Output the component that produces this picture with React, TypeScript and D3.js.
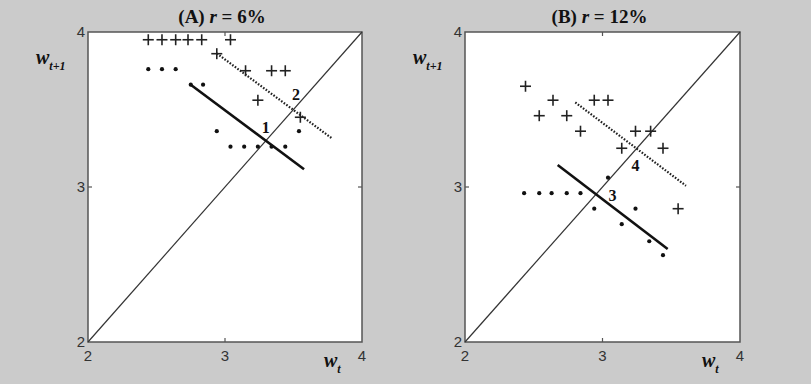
import React from "react";
import * as d3 from "d3";

// Panel A (r = 6%)
const aPlusX = [2.44, 2.54, 2.64, 2.73, 2.83, 3.04, 2.94, 3.15, 3.34, 3.44, 3.24, 3.55];
const aPlusY = [3.95, 3.95, 3.95, 3.95, 3.95, 3.95, 3.86, 3.75, 3.75, 3.75, 3.56, 3.45];
const aDotX = [2.44, 2.54, 2.64, 2.75, 2.84, 2.94, 3.04, 3.14, 3.24, 3.34, 3.44, 3.54];
const aDotY = [3.76, 3.76, 3.76, 3.66, 3.66, 3.36, 3.26, 3.26, 3.26, 3.26, 3.26, 3.36];
const aSolid = [[2.745, 3.663], [3.577, 3.115]];
const aDotted = [[2.94, 3.862], [3.78, 3.314]];
const aLabels = [{ text: "1", x: 3.297, y: 3.385 }, { text: "2", x: 3.518, y: 3.598 }];

// Panel B (r = 12%)
const bPlusX = [2.44, 2.64, 2.54, 2.74, 2.94, 3.04, 2.84, 3.24, 3.35, 3.14, 3.44, 3.55];
const bPlusY = [3.65, 3.56, 3.46, 3.46, 3.56, 3.56, 3.36, 3.36, 3.36, 3.25, 3.25, 2.86];
const bDotX = [2.43, 2.54, 2.63, 2.74, 2.84, 2.94, 3.24, 3.14, 3.34, 3.44, 3.04];
const bDotY = [2.96, 2.96, 2.96, 2.96, 2.96, 2.86, 2.86, 2.76, 2.65, 2.56, 3.06];
const bSolid = [[2.674, 3.142], [3.474, 2.6]];
const bDotted = [[2.802, 3.546], [3.607, 3.008]];
const bLabels = [{ text: "3", x: 3.072, y: 2.948 }, { text: "4", x: 3.24, y: 3.137 }];

const domain: [number, number] = [2, 4];
const tickValues = [2, 3, 4];

type PanelProps = {
  left: number;
  right: number;
  top: number;
  bottom: number;
  letter: string;
  rate: string;
  plusX: number[];
  plusY: number[];
  dotX: number[];
  dotY: number[];
  solid: number[][];
  dotted: number[][];
  labels: { text: string; x: number; y: number }[];
};

const serif = "'Liberation Serif', 'DejaVu Serif', serif";
const sans = "'Liberation Sans', Arial, sans-serif";

function Panel(p: PanelProps) {
  const x = d3.scaleLinear().domain(domain).range([p.left, p.right]);
  const y = d3.scaleLinear().domain(domain).range([p.bottom, p.top]);
  const line = d3
    .line<number[]>()
    .x((d) => x(d[0]))
    .y((d) => y(d[1]));
  const cx = (p.left + p.right) / 2;
  return (
    <g>
      <rect
        x={p.left}
        y={p.top}
        width={p.right - p.left}
        height={p.bottom - p.top}
        fill="#ffffff"
        stroke="#555"
        strokeWidth={1.5}
      />
      {/* inward tick marks at the middle value */}
      <line x1={x(3)} x2={x(3)} y1={p.bottom} y2={p.bottom - 4} stroke="#555" strokeWidth={1.2} />
      <line x1={x(3)} x2={x(3)} y1={p.top} y2={p.top + 4} stroke="#555" strokeWidth={1.2} />
      <line x1={p.left} x2={p.left + 4} y1={y(3)} y2={y(3)} stroke="#555" strokeWidth={1.2} />
      <line x1={p.right} x2={p.right - 4} y1={y(3)} y2={y(3)} stroke="#555" strokeWidth={1.2} />
      {/* 45-degree line */}
      <path d={line([[2, 2], [4, 4]]) ?? ""} stroke="#333" strokeWidth={1.2} fill="none" />
      <path d={line(p.solid) ?? ""} stroke="#111" strokeWidth={2.6} fill="none" />
      <path
        d={line(p.dotted) ?? ""}
        stroke="#222"
        strokeWidth={2.2}
        strokeDasharray="1.6 1.6"
        fill="none"
      />
      {p.plusX.map((v, i) => (
        <g key={"p" + i} transform={`translate(${x(v)},${y(p.plusY[i])})`}>
          <line x1={-5.5} x2={5.5} y1={0} y2={0} stroke="#222" strokeWidth={1.6} />
          <line x1={0} x2={0} y1={-5.5} y2={5.5} stroke="#222" strokeWidth={1.6} />
        </g>
      ))}
      {p.dotX.map((v, i) => (
        <circle key={"d" + i} cx={x(v)} cy={y(p.dotY[i])} r={2.1} fill="#111" />
      ))}
      {p.labels.map((l) => (
        <text
          key={l.text}
          x={x(l.x)}
          y={y(l.y)}
          dy="0.35em"
          textAnchor="middle"
          fontFamily={serif}
          fontWeight="bold"
          fontSize={16}
          fill="#111"
        >
          {l.text}
        </text>
      ))}
      {/* tick labels */}
      {tickValues.map((t) => (
        <text
          key={"xt" + t}
          x={x(t)}
          y={p.bottom + 19}
          textAnchor="middle"
          fontFamily={sans}
          fontSize={15}
          fill="#333"
        >
          {t}
        </text>
      ))}
      {tickValues.map((t) => (
        <text
          key={"yt" + t}
          x={p.left - 3}
          y={y(t)}
          dy="0.35em"
          textAnchor="end"
          fontFamily={sans}
          fontSize={15}
          fill="#333"
        >
          {t}
        </text>
      ))}
      {/* title */}
      <text
        x={cx - 3}
        y={23}
        textAnchor="middle"
        fontFamily={serif}
        fontWeight="bold"
        fontSize={19}
        fill="#111"
      >
        {`(${p.letter}) `}
        <tspan fontStyle="italic">r</tspan>
        {` = ${p.rate}`}
      </text>
      {/* y-axis label */}
      <text
        x={p.left - 52}
        y={64}
        fontFamily={serif}
        fontWeight="bold"
        fontStyle="italic"
        fontSize={20}
        fill="#111"
      >
        w
        <tspan fontSize={12} dy={6}>
          t+1
        </tspan>
      </text>
      {/* x-axis label */}
      <text
        x={p.right - 38}
        y={367}
        fontFamily={serif}
        fontWeight="bold"
        fontStyle="italic"
        fontSize={20}
        fill="#111"
      >
        w
        <tspan fontSize={12} dy={6}>
          t
        </tspan>
      </text>
    </g>
  );
}

export default function App() {
  return (
    <svg
      width={811}
      height={384}
      style={{ position: "fixed", left: 0, top: 0, display: "block" }}
    >
      <rect x={0} y={0} width={811} height={384} fill="#cbcbcb" />
      <Panel
        left={88}
        right={362}
        top={32}
        bottom={342}
        letter="A"
        rate="6%"
        plusX={aPlusX}
        plusY={aPlusY}
        dotX={aDotX}
        dotY={aDotY}
        solid={aSolid}
        dotted={aDotted}
        labels={aLabels}
      />
      <Panel
        left={465}
        right={740}
        top={32}
        bottom={342}
        letter="B"
        rate="12%"
        plusX={bPlusX}
        plusY={bPlusY}
        dotX={bDotX}
        dotY={bDotY}
        solid={bSolid}
        dotted={bDotted}
        labels={bLabels}
      />
    </svg>
  );
}
